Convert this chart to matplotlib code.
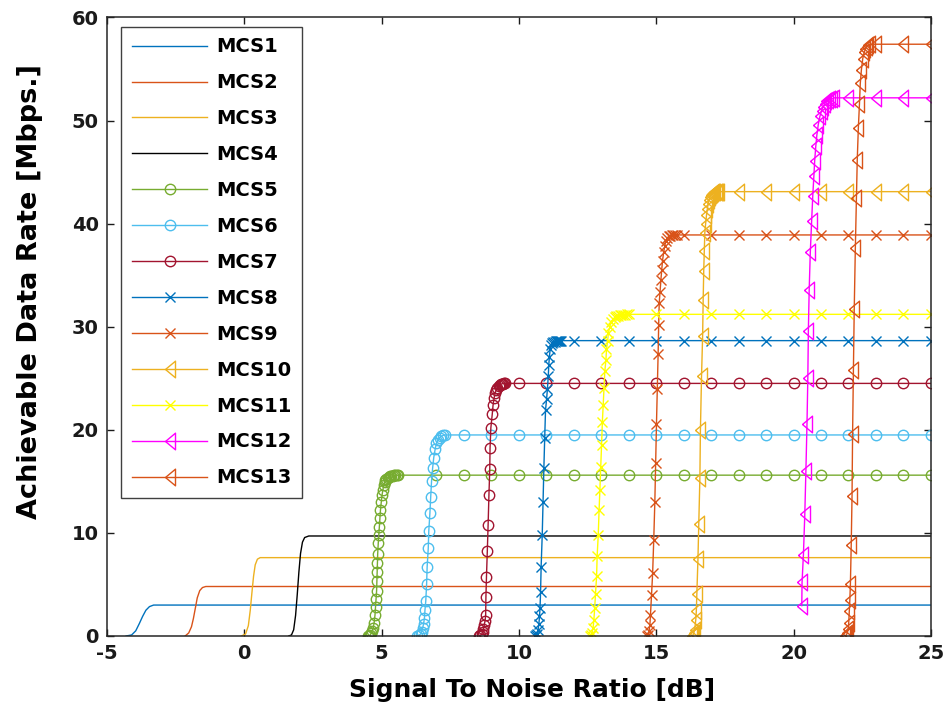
import matplotlib.pyplot as plt

# SNR [dB] / rate [Mbps] points (transition part of each curve)
mcs1_snr = [-4.3, -4.1, -3.95, -3.82, -3.7, -3.58, -3.45, -3.3, 25]
mcs1_rate = [0, 0.1, 0.5, 1.2, 1.9, 2.5, 2.85, 3.0, 3.0]
mcs2_snr = [-2.15, -2.02, -1.92, -1.85, -1.78, -1.71, -1.62, -1.52, -1.4, 25]
mcs2_rate = [0, 0.3, 0.9, 1.7, 2.7, 3.7, 4.4, 4.7, 4.8, 4.8]
mcs3_snr = [-0.1, 0.05, 0.15, 0.22, 0.28, 0.34, 0.4, 0.48, 0.58, 25]
mcs3_rate = [0, 0.2, 1.0, 2.5, 4.2, 5.8, 6.9, 7.45, 7.6, 7.6]
mcs4_snr = [1.62, 1.72, 1.8, 1.87, 1.93, 1.99, 2.05, 2.12, 2.2, 2.35, 25]
mcs4_rate = [0, 0.1, 0.6, 2.0, 4.0, 6.2, 8.0, 9.1, 9.55, 9.7, 9.7]

mcs5_snr = [4.5, 4.55, 4.58, 4.62, 4.66, 4.7, 4.73, 4.76, 4.78, 4.8, 4.82, 4.83, 4.84, 4.85, 4.86,
            4.88, 4.9, 4.92, 4.94, 4.96, 4.99, 5.02, 5.05, 5.08, 5.11, 5.14, 5.18, 5.22, 5.26, 5.3,
            5.35, 5.4, 5.45, 5.5, 5.55, 5.6]
mcs5_rate = [0, 0.02, 0.08, 0.25, 0.5, 0.8, 1.3, 2.0, 2.8, 3.6, 4.4, 5.3, 6.2, 7.1, 8.0,
             9.0, 9.8, 10.6, 11.4, 12.2, 13.0, 13.7, 14.2, 14.6, 14.9, 15.1, 15.25, 15.35, 15.42, 15.48,
             15.52, 15.55, 15.57, 15.58, 15.59, 15.6]
mcs6_snr = [6.3, 6.36, 6.42, 6.46, 6.5, 6.53, 6.56, 6.58, 6.61, 6.64, 6.66, 6.7, 6.72, 6.76, 6.79,
            6.82, 6.86, 6.9, 6.95, 7.0, 7.06, 7.12, 7.18, 7.24, 7.3]
mcs6_rate = [0, 0.05, 0.2, 0.4, 0.8, 1.2, 1.7, 2.5, 3.4, 5.0, 6.7, 8.5, 10.2, 11.9, 13.5,
             15.0, 16.3, 17.3, 18.1, 18.7, 19.05, 19.25, 19.38, 19.45, 19.5]
mcs7_snr = [8.55, 8.6, 8.64, 8.68, 8.71, 8.74, 8.77, 8.79, 8.8, 8.82, 8.85, 8.88, 8.91, 8.94, 8.95,
            8.98, 9.03, 9.06, 9.1, 9.14, 9.18, 9.22, 9.26, 9.3, 9.34, 9.38, 9.42, 9.46, 9.5]
mcs7_rate = [0, 0.05, 0.15, 0.35, 0.65, 1.07, 1.5, 2.0, 3.8, 5.75, 8.2, 10.8, 13.7, 16.2, 18.2,
             20.2, 21.5, 22.4, 23.1, 23.6, 23.9, 24.1, 24.25, 24.35, 24.42, 24.46, 24.48, 24.5, 24.5]
mcs8_snr = [10.58, 10.62, 10.66, 10.7, 10.73, 10.75, 10.77, 10.79, 10.81, 10.85, 10.88, 10.91, 10.94,
            10.97, 11.01, 11.04, 11.07, 11.09, 11.11, 11.14, 11.18, 11.22, 11.26, 11.3, 11.34, 11.38,
            11.42, 11.46, 11.5, 11.55]
mcs8_rate = [0, 0.05, 0.2, 0.6, 1.2, 1.9, 2.7, 4.3, 6.7, 9.8, 13.0, 16.3, 19.2,
             21.9, 23.0, 24.0, 25.2, 26.3, 27.1, 27.8, 28.2, 28.4, 28.5, 28.55, 28.58, 28.6,
             28.62, 28.63, 28.64, 28.65]
mcs9_snr = [14.66, 14.7, 14.74, 14.77, 14.79, 14.83, 14.87, 14.91, 14.95, 14.98, 15.01, 15.04, 15.07,
            15.09, 15.11, 15.14, 15.17, 15.2, 15.23, 15.27, 15.31, 15.35, 15.4, 15.45, 15.5, 15.56,
            15.62, 15.68, 15.74]
mcs9_rate = [0, 0.1, 0.5, 1.07, 2.0, 4.0, 6.1, 9.3, 13.0, 16.8, 20.6, 24.0, 27.4,
             30.2, 32.3, 33.4, 34.5, 35.5, 36.4, 37.2, 37.8, 38.3, 38.6, 38.75, 38.83, 38.87,
             38.9, 38.9, 38.9]
mcs10_snr = [16.3, 16.34, 16.37, 16.4, 16.44, 16.46, 16.48, 16.52, 16.55, 16.59, 16.61, 16.65, 16.69,
             16.71, 16.73, 16.75, 16.77, 16.8, 16.83, 16.86, 16.89, 16.92, 16.95, 16.99, 17.03, 17.07,
             17.11, 17.15, 17.2, 17.25, 17.3]
mcs10_rate = [0, 0.1, 0.3, 0.6, 1.55, 2.4, 4.1, 7.5, 10.9, 15.3, 20.0, 25.2, 29.1,
              32.6, 35.4, 37.3, 39.1, 40.0, 40.8, 41.4, 41.9, 42.3, 42.6, 42.8, 42.9, 42.98,
              43.02, 43.05, 43.07, 43.08, 43.1]
mcs11_snr = [12.58, 12.62, 12.66, 12.7, 12.73, 12.76, 12.79, 12.83, 12.85, 12.89, 12.92, 12.95, 12.98,
             13.01, 13.04, 13.07, 13.1, 13.13, 13.17, 13.19, 13.23, 13.26, 13.31, 13.37, 13.43, 13.49,
             13.55, 13.61, 13.67, 13.73, 13.79, 13.85, 13.92, 14.0]
mcs11_rate = [0, 0.05, 0.3, 0.75, 1.55, 2.7, 4.1, 5.8, 7.8, 9.8, 12.2, 14.2, 16.4,
              18.5, 20.8, 22.4, 24.1, 25.7, 26.8, 27.8, 28.6, 29.4, 30.0, 30.5, 30.75, 30.9,
              31.0, 31.07, 31.12, 31.15, 31.17, 31.18, 31.19, 31.2]
mcs12_snr = [20.3, 20.31, 20.36, 20.41, 20.45, 20.49, 20.52, 20.54, 20.57, 20.61, 20.66, 20.7, 20.74,
             20.77, 20.81, 20.85, 20.9, 20.96, 21.02, 21.08, 21.14, 21.2, 21.27, 21.34, 21.41, 21.48]
mcs12_rate = [2.95, 5.2, 7.9, 11.8, 16.0, 20.6, 25.0, 29.6, 33.6, 37.2, 40.3, 42.7, 44.6,
              46.1, 47.5, 48.6, 49.6, 50.4, 50.95, 51.35, 51.65, 51.85, 51.98, 52.05, 52.1, 52.2]
mcs13_snr = [21.88, 21.92, 21.96, 21.99, 22.01, 22.03, 22.05, 22.07, 22.1, 22.13, 22.15, 22.18, 22.21,
             22.25, 22.29, 22.32, 22.36, 22.4, 22.43, 22.47, 22.52, 22.57, 22.62, 22.67, 22.72, 22.78]
mcs13_rate = [0, 0.1, 0.3, 0.7, 1.3, 2.4, 3.5, 5.0, 8.8, 13.6, 19.6, 25.8, 31.7,
              37.6, 42.5, 46.2, 49.3, 51.6, 53.6, 54.9, 56.0, 56.6, 56.95, 57.15, 57.3, 57.4]

# whole-dB SNR points used on the flat part, and where each flat part starts
snr_grid = [-5, -4, -3, -2, -1, 0, 1, 2, 3, 4, 5, 6, 7, 8, 9, 10, 11, 12, 13, 14, 15, 16,
            17, 18, 19, 20, 21, 22, 23, 24, 25]
flat_start = {5: 7, 6: 8, 7: 10, 8: 12, 9: 16, 10: 18, 11: 15, 12: 22, 13: 23}

labels = ['MCS%d' % i for i in range(1, 14)]

# MATLAB-like colours
blue = (0, 0.447, 0.741)
orange = (0.85, 0.325, 0.098)
gold = (0.929, 0.694, 0.125)
green = (0.466, 0.674, 0.188)
cyan = (0.301, 0.745, 0.933)
wine = (0.635, 0.078, 0.184)
colors = [blue, orange, gold, 'black', green, cyan, wine, blue, orange, gold,
          (1, 1, 0), (1, 0, 1), orange]

tri = [(-0.6, 0), (0.6, 1), (0.6, -1), (-0.6, 0)]
markers = [None, None, None, None, 'o', 'o', 'o', 'x', 'x', tri, 'x', tri, tri]
msizes = [0, 0, 0, 0, 7.5, 7.5, 7.5, 7, 7, 12, 7, 12, 12]

curves = [(mcs1_snr, mcs1_rate), (mcs2_snr, mcs2_rate), (mcs3_snr, mcs3_rate), (mcs4_snr, mcs4_rate),
          (mcs5_snr, mcs5_rate), (mcs6_snr, mcs6_rate), (mcs7_snr, mcs7_rate), (mcs8_snr, mcs8_rate),
          (mcs9_snr, mcs9_rate), (mcs10_snr, mcs10_rate), (mcs11_snr, mcs11_rate),
          (mcs12_snr, mcs12_rate), (mcs13_snr, mcs13_rate)]

plt.rcParams['font.family'] = ['DejaVu Sans']
plt.rcParams['font.weight'] = 'bold'
plt.rcParams['axes.unicode_minus'] = False

fig = plt.figure(figsize=(9.46, 7.11), dpi=100)
ax = fig.add_axes([0.113, 0.1055, 0.871, 0.87])

for i, (snr, rate) in enumerate(curves):
    n = i + 1
    x = list(snr)
    y = list(rate)
    if n in flat_start:
        for g in snr_grid:
            if g >= flat_start[n]:
                x.append(g)
                y.append(rate[-1])
    if markers[i] is None:
        ax.plot(x, y, color=colors[i], lw=1.0, label=labels[i])
    else:
        ax.plot(x, y, color=colors[i], lw=1.0, marker=markers[i], ms=msizes[i],
                mfc='none', mew=1.0, label=labels[i])

ax.set_xlim(-5, 25)
ax.set_ylim(0, 60)
ax.set_xticks([-5, 0, 5, 10, 15, 20, 25])
ax.set_yticks([0, 10, 20, 30, 40, 50, 60])
ax.tick_params(direction='in', top=True, right=True, length=5, width=1.0,
               labelsize=14, colors='0.1', pad=6)
for s in ax.spines.values():
    s.set_linewidth(1.1)
    s.set_color('0.15')

ax.set_xlabel('Signal To Noise Ratio [dB]', fontsize=18, fontweight='bold')
ax.set_ylabel('Achievable Data Rate [Mbps.]', fontsize=19.5, fontweight='bold')
ax.xaxis.set_label_coords(0.516, -0.068)
ax.yaxis.set_label_coords(-0.077, 0.557)

leg = ax.legend(loc='upper left', bbox_to_anchor=(0.017, 0.985), borderaxespad=0,
                fontsize=14, handlelength=3.9, handletextpad=0.45, labelspacing=0.87,
                numpoints=1, fancybox=False, framealpha=1, borderpad=0.55)
leg.get_frame().set_edgecolor('0.25')
leg.get_frame().set_linewidth(1.0)
for t in leg.get_texts():
    t.set_fontweight('bold')

fig.savefig('out.png', dpi=100)
